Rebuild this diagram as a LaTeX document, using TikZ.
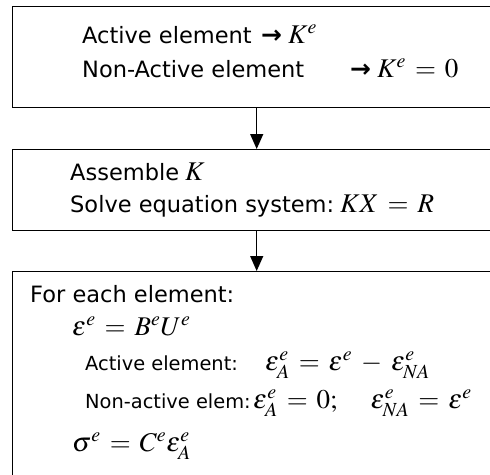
\documentclass[tikz,border=0pt]{standalone}
\usepackage{mathptmx}
\usepackage[no-math]{fontspec}
\setmainfont{DejaVu Sans}
\usetikzlibrary{arrows.meta}
\newcommand{\mth}[1]{{\fontsize{27}{30}\selectfont\thickmuskip=6mu\medmuskip=6mu$#1$}}
\newcommand{\arr}{{\fontsize{25}{28}\selectfont\bfseries →}}
\begin{document}
\begin{tikzpicture}[x=1pt,y=-1pt,
  box/.style={draw,line width=1.4pt,inner sep=0pt,anchor=north west,minimum width=488pt},
  txt/.style={anchor=base west,inner sep=0pt,font=\fontsize{22.5}{26}\selectfont},
  small/.style={anchor=base west,inner sep=0pt,font=\fontsize{19.4}{23}\selectfont},
  flow/.style={line width=1.3pt,-{Triangle[width=13pt,length=15pt]}}]
\useasboundingbox (0,0) rectangle (490,474);
\clip (0,0) rectangle (490,474);
\node[box,minimum height=101pt] (b1) at (12,6) {};
\node[box,minimum height=81pt] (b2) at (12,149) {};
\node[box,minimum height=230pt] (b3) at (12,271) {};
\draw[flow] (b1.south) -- (b2.north);
\draw[flow] (b2.south) -- (b3.north);
% box 1
\node[txt] (t1a) at (82,43) {Active element};
\node[txt] (t1b) at (261,43) {\arr\hspace{6pt}\mth{K^{e}}};
\node[txt] (t2a) at (82,77) {Non-Active element};
\node[txt] (t2b) at (350,77) {\arr\hspace{6pt}\mth{K^{e}=0}};
% box 2
\node[txt] (t3) at (70,180) {Assemble\hspace{6pt}\mth{K}};
\node[txt] (t4) at (70,212) {Solve equation system:\hspace{6pt}\mth{KX=R}};
% box 3
\node[txt] (t5) at (30,302) {For each element:};
\node[txt] (t6) at (72,335) {\mth{\epsilon^{e}=B^{e}U^{e}}};
\node[small] (t7) at (85,370) {Active element:};
\node[txt] (t7m) at (265,370) {\mth{\epsilon^{e}_{A}=\epsilon^{e}-\epsilon^{e}_{NA}}};
\node[small] (t8) at (85,408) {Non-active elem:};
\node[txt] (t8m) at (253,408) {\mth{\epsilon^{e}_{A}=0;\hspace{30pt}\epsilon^{e}_{NA}=\epsilon^{e}}};
\node[txt] (t9) at (72,451) {\mth{\sigma^{e}=C^{e}\epsilon^{e}_{A}}};
\end{tikzpicture}
\end{document}
